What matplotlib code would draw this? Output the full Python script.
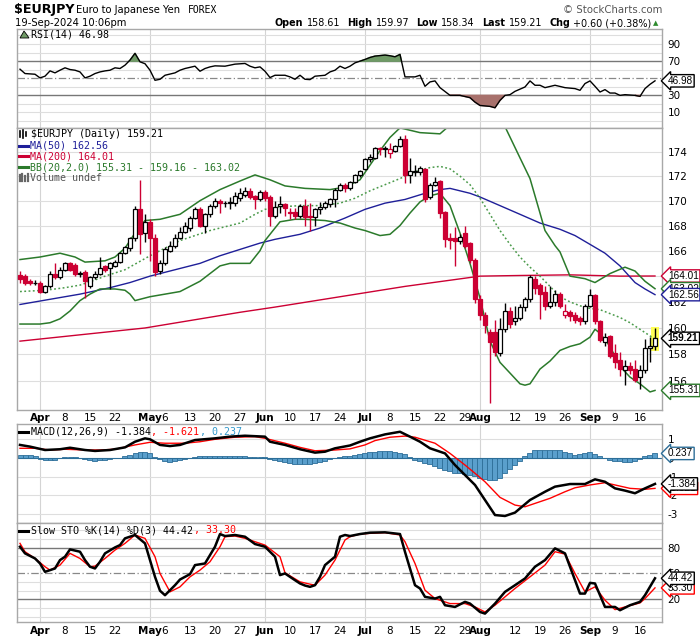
import numpy as np
import pandas as pd
import matplotlib
matplotlib.use('Agg')
import matplotlib.pyplot as plt
from matplotlib.lines import Line2D
from matplotlib.patches import Rectangle
from matplotlib.ticker import FixedLocator, FixedFormatter, NullLocator

# ---------------- data ----------------
dates = pd.bdate_range('2024-03-26', '2024-09-19')

opens = [164.1,164.0,163.6,163.45,163.5,162.8,163.2,164.2,163.9,164.5,165.0,164.9,164.2,164.3,163.2,163.9,164.2,164.8,164.6,164.8,
         165.1,165.8,166.2,167.0,169.3,167.4,168.3,167.0,164.4,165.0,166.0,166.4,167.0,167.5,167.8,168.6,169.3,168.0,168.9,169.6,
         170.0,169.8,169.85,169.8,170.2,170.5,170.8,170.4,170.1,170.7,170.3,168.8,169.6,169.7,169.1,169.1,168.8,169.6,168.8,168.7,
         169.3,169.5,169.7,170.1,170.9,171.3,171.0,171.5,172.1,172.6,173.4,173.5,174.3,174.25,173.9,174.1,174.5,175.1,172.1,172.35,
         172.3,172.6,170.3,171.3,171.6,169.1,167.0,167.0,166.8,167.4,166.6,165.3,162.2,161.0,159.7,159.7,158.1,159.9,161.3,160.5,
         160.8,161.6,162.2,163.8,163.3,162.8,161.7,162.0,162.6,161.0,161.2,161.0,160.8,160.5,161.7,162.5,160.5,158.9,159.4,158.1,
         157.6,156.8,157.1,156.9,156.3,156.8,158.5,158.61]
highs = [164.4,164.2,163.8,163.7,163.6,163.3,164.4,165.0,164.7,165.1,165.1,165.0,164.4,164.5,164.0,164.4,165.5,164.9,165.1,165.3,
         165.9,166.4,167.1,169.6,171.7,168.9,168.5,167.3,165.3,166.3,166.8,167.3,167.9,168.3,168.8,169.5,169.5,169.0,169.7,170.2,
         170.1,170.0,170.3,170.7,171.0,171.1,171.0,170.5,170.9,170.9,170.5,170.0,170.4,169.8,169.4,169.4,169.7,170.1,169.8,169.4,
         169.9,170.0,170.2,171.0,171.4,171.4,171.6,172.2,172.5,173.5,173.8,174.4,174.4,174.5,174.7,174.6,175.3,175.4,173.5,172.9,
         172.8,172.7,171.4,171.9,171.7,169.2,167.4,167.9,167.3,168.0,166.7,165.4,162.5,161.2,159.9,160.6,160.8,161.9,161.6,161.7,
         161.8,162.4,164.1,164.0,163.5,163.2,163.2,162.9,162.8,161.8,161.4,161.2,160.9,161.8,163.0,162.6,160.6,159.6,159.5,158.8,
         158.2,157.6,157.4,157.6,157.2,159.2,159.3,159.97]
lows = [163.5,163.3,163.3,163.3,162.7,162.7,163.1,163.8,163.8,164.4,164.4,164.0,163.9,162.3,163.1,163.8,164.1,164.3,163.0,164.7,
        165.0,165.7,166.0,166.8,165.7,166.7,165.2,164.0,164.2,164.9,165.9,166.2,166.9,167.4,167.6,168.5,167.9,167.4,168.7,169.4,
        169.0,169.5,169.3,169.6,170.0,170.3,170.1,169.3,170.0,170.0,168.0,168.6,169.0,168.8,168.5,168.5,168.6,168.0,167.6,168.0,
        168.9,169.3,169.5,169.5,170.8,170.7,170.9,171.4,171.9,172.5,173.2,173.4,173.7,173.6,173.5,174.0,174.4,171.4,171.4,172.0,
        172.1,169.9,170.1,171.2,168.6,166.3,166.1,164.8,166.5,166.2,165.0,161.9,160.6,159.6,154.4,157.9,157.9,159.7,160.0,160.2,
        160.6,161.3,162.0,162.6,160.7,161.4,161.5,161.7,161.5,160.8,160.5,160.4,160.2,160.3,161.6,160.3,158.9,158.6,157.7,157.0,
        156.4,155.7,156.5,155.9,155.4,156.6,157.4,158.34]
closes = [163.8,163.5,163.45,163.5,162.8,163.2,164.2,163.9,164.5,165.0,164.5,164.2,164.25,163.6,163.9,164.2,164.6,164.5,165.0,165.1,
          165.8,166.3,167.0,169.3,167.3,168.3,167.0,164.3,165.0,166.1,166.4,167.0,167.5,168.0,168.6,169.3,168.0,168.9,169.6,170.0,
          169.8,169.85,169.9,170.4,170.6,170.8,170.3,170.1,170.7,170.2,168.8,169.5,169.7,169.4,169.0,168.8,169.6,168.7,168.65,169.3,
          169.5,169.8,170.1,170.9,171.3,171.0,171.5,172.1,172.4,173.4,173.6,174.3,174.2,174.3,174.2,174.5,175.1,172.1,172.4,172.45,
          172.7,170.1,171.3,171.5,169.0,166.9,166.85,166.8,167.1,166.4,165.3,162.2,161.0,160.2,158.9,158.2,159.9,161.3,160.3,160.8,
          161.6,162.2,163.9,163.1,162.6,161.7,162.0,162.6,161.7,161.3,160.9,160.6,160.55,161.7,162.5,160.5,159.1,159.3,157.9,157.4,
          156.9,157.1,156.8,156.1,156.8,158.5,158.61,159.21]

ma50_day = [0,6,12,18,22,26,31,36,40,44,48,51,56,60,65,69,73,77,81,84,86,88,90,92,96,100,104,108,111,114,117,120,123,125,127]
ma50_val = [161.8,162.2,162.6,163.1,163.5,164.0,164.5,165.0,165.6,166.1,166.6,166.9,167.3,167.8,168.6,169.3,169.8,170.1,170.6,170.9,
            171.0,170.8,170.6,170.3,169.6,168.9,168.2,167.7,167.2,166.5,165.8,164.8,163.5,163.0,162.56]

ma200_day = [0,25,44,51,77,92,100,110,120,127]
ma200_val = [159.0,160.0,161.2,161.6,163.2,164.0,164.05,164.1,164.0,164.01]

bbu_day = [0,4,8,11,13,17,19,21,23,25,28,32,36,40,44,47,50,53,57,62,65,68,70,72,74,76,80,84,87,90,94,97,100,102,104,105,107,108,
           110,113,115,118,121,123,125,127]
bbu_val = [165.3,165.5,165.8,165.5,165.1,165.2,165.5,166.2,167.4,168.4,168.5,168.9,170.0,170.9,171.6,172.1,171.7,171.2,171.0,170.9,
           171.1,171.7,172.9,174.1,175.2,176.0,175.6,175.5,176.6,178.5,178.5,176.1,173.5,171.8,169.0,167.6,166.4,165.9,164.0,163.8,
           163.5,164.2,164.7,164.4,163.6,163.02]
bbm_day = [0,5,9,12,15,17,21,26,29,32,35,38,41,44,47,49,52,56,60,64,67,70,73,76,78,80,82,84,86,88,90,92,94,96,98,100,102,104,106,
           108,110,112,114,116,118,120,122,124,126,127]
bbm_val = [162.8,162.9,163.1,163.3,163.7,164.0,164.5,165.6,166.2,166.8,167.2,167.6,167.9,168.2,168.9,169.3,169.5,169.6,169.6,169.8,
           170.2,170.8,171.3,171.8,172.2,172.5,172.7,172.8,172.6,172.0,171.3,170.2,168.9,167.6,166.5,165.5,164.7,164.0,163.2,162.4,
           162.0,161.7,161.5,161.4,161.1,160.8,160.4,159.9,159.4,159.16]
bbl_day = [0,4,6,8,10,12,14,16,19,21,22,23,24,26,29,32,34,36,38,40,42,44,46,48,49,51,52,55,57,61,64,67,69,72,74,76,78,80,82,84,
           86,88,90,92,94,96,98,100,101,102,104,106,108,110,112,114,115,116,118,120,122,124,126,127]
bbl_val = [160.3,160.3,160.4,160.7,161.3,162.1,162.6,163.0,163.0,162.9,162.6,162.1,162.2,162.4,162.6,162.8,163.2,163.6,164.2,164.8,
           165.0,165.0,165.0,166.0,166.8,167.8,168.3,168.5,168.5,168.4,168.2,167.8,167.6,167.2,167.3,168.0,169.0,169.9,170.4,170.6,
           169.6,167.4,165.0,162.3,159.0,157.4,156.6,155.8,155.7,155.8,156.9,157.5,158.3,158.6,158.8,159.3,159.9,159.6,158.6,157.1,
           156.3,155.8,155.2,155.31]

rsi_day = [0,1,3,4,5,6,7,8,9,10,11,12,13,14,15,16,17,18,19,20,21,22,23,24,25,26,27,28,29,31,32,33,35,36,37,38,39,41,42,43,45,46,47,48,49,
           50,51,53,54,55,56,57,58,59,61,62,63,64,65,66,67,69,70,71,73,74,75,76,77,79,80,81,82,83,84,86,88,90,91,92,94,95,96,97,98,99,
           101,102,103,104,105,107,109,111,112,113,114,115,116,117,118,119,120,121,123,124,125,126,127]
rsi_val = [60.6,55.5,54.7,50.4,52.4,58.6,56.3,59.4,62.2,60.2,59.4,57.4,50.4,52.4,55.5,57.4,58.6,59.4,62.2,61.4,65.3,71.2,79.1,69.2,67.0,
           59.4,47.6,48.8,53.5,56.3,59.4,61.4,64.1,58.2,61.4,63.3,64.5,64.1,65.3,66.5,67.3,64.1,62.2,63.3,58.2,50.8,53.5,53.5,51.6,48.8,
           53.5,48.8,48.4,52.4,53.5,57.4,59.4,64.1,61.4,64.1,68.0,72.0,74.3,75.9,77.1,76.3,75.1,77.9,51.6,51.6,53.5,40.6,45.7,46.9,39.0,
           30.0,30.0,27.3,22.1,18.2,17.1,15.5,24.1,30.0,30.8,34.7,39.8,46.9,41.8,41.8,39.0,41.8,39.0,37.9,35.9,43.8,46.9,40.6,33.9,36.7,
           32.7,32.7,30.0,30.8,30.0,28.8,37.9,42.9,46.98]

macd_day = [0,2,5,8,10,13,15,18,21,23,25,26,28,30,32,35,39,42,45,49,50,53,56,59,61,63,66,68,70,73,76,78,80,82,85,87,89,91,93,95,
            97,99,102,105,107,110,113,115,117,119,121,123,125,127]
macd_val = [0.69,0.60,0.42,0.46,0.54,0.42,0.37,0.42,0.56,0.86,1.04,0.99,0.69,0.63,0.69,0.95,1.04,1.13,1.18,1.13,0.86,0.69,0.46,0.28,
            0.33,0.51,0.66,0.86,1.04,1.25,1.39,1.13,0.86,0.51,0.24,-0.38,-0.91,-1.44,-2.24,-3.04,-3.09,-2.91,-2.24,-1.80,-1.53,-1.39,
            -1.39,-1.14,-1.27,-1.62,-1.74,-1.88,-1.62,-1.384]
sig_day = [0,3,6,9,13,16,19,23,26,29,33,36,39,43,47,49,53,56,59,63,66,69,71,74,77,79,83,86,89,91,93,96,99,101,103,106,109,111,114,
           117,119,122,125,127]
sig_val = [0.51,0.51,0.42,0.46,0.42,0.42,0.46,0.69,0.83,0.78,0.78,0.86,0.99,1.10,1.13,1.04,0.78,0.56,0.38,0.42,0.48,0.69,0.92,1.10,
           1.16,1.10,0.78,0.24,-0.38,-0.82,-1.27,-2.10,-2.51,-2.60,-2.42,-2.15,-1.80,-1.59,-1.44,-1.32,-1.44,-1.62,-1.67,-1.621]
hist_val = [0.18,0.16,0.14,0.10,-0.05,-0.10,-0.12,-0.10,0.02,0.05,0.05,0.03,-0.02,-0.08,-0.12,-0.14,-0.12,-0.10,-0.06,-0.02,0.02,0.08,
            0.15,0.25,0.32,0.33,0.25,0.05,-0.08,-0.16,-0.20,-0.18,-0.12,-0.05,0.02,0.06,0.08,0.10,0.12,0.12,0.12,0.10,0.10,0.10,0.10,
            0.08,0.07,0.06,0.05,0.03,-0.05,-0.12,-0.18,-0.22,-0.27,-0.30,-0.32,-0.32,-0.30,-0.27,-0.22,-0.15,-0.08,0.00,0.05,0.10,
            0.12,0.15,0.22,0.27,0.30,0.33,0.35,0.35,0.35,0.30,0.27,0.20,0.04,-0.10,-0.18,-0.27,-0.35,-0.44,-0.55,-0.62,-0.70,-0.80,
            -0.82,-0.83,-0.90,-0.97,-1.05,-1.12,-1.15,-1.15,-1.06,-0.80,-0.60,-0.40,-0.18,0.09,0.27,0.41,0.44,0.44,0.44,0.44,0.42,
            0.30,0.25,0.18,0.20,0.28,0.30,0.20,0.09,0.00,-0.09,-0.15,-0.18,-0.23,-0.23,-0.15,-0.05,0.09,0.17,0.237]

k_day = [0,1,3,4,5,7,8,9,10,12,13,14,15,16,17,19,20,21,23,25,26,27,28,29,31,32,34,35,37,39,40,41,43,45,47,49,51,52,53,55,56,57,58,
         59,60,61,63,64,65,66,68,70,73,76,77,79,80,81,83,84,85,87,89,90,92,93,95,97,99,101,103,105,107,109,112,113,114,115,117,119,
         120,122,124,125,127]
k_val = [81.0,73.3,67.4,61.6,51.9,55.8,65.5,69.4,77.9,75.2,65.5,57.8,55.8,63.6,73.3,80.2,82.9,90.7,94.6,84.9,65.5,46.1,30.0,24.8,36.4,
         43.0,49.2,59.7,61.6,81.0,95.7,93.4,94.6,92.6,84.1,81.0,69.4,48.1,50.0,42.2,38.4,36.0,34.5,36.4,46.1,59.7,69.4,92.6,94.6,93.4,
         95.7,97.3,97.7,95.7,75.0,36.4,32.6,22.9,20.9,22.9,13.2,11.2,17.1,15.1,5.4,3.5,15.1,28.7,36.4,44.2,57.8,65.5,79.1,73.3,26.7,
         26.7,39.1,38.4,11.2,11.2,7.4,13.2,17.1,24.8,44.42]
d_day = [0,1,3,5,6,8,10,12,14,15,17,19,21,23,25,27,28,30,32,34,36,38,40,41,43,45,49,52,53,56,58,59,61,63,65,66,68,70,73,76,77,79,
         81,83,86,89,91,93,95,97,99,102,105,107,109,111,113,115,117,119,121,124,125,127]
d_val = [84.9,75.2,67.4,57.8,53.9,59.7,73.3,67.4,57.8,58.5,67.4,77.1,84.9,94.6,90.7,69.4,50.0,28.7,34.5,46.1,53.9,63.6,81.0,92.6,93.4,
         90.7,82.9,69.4,50.8,40.3,37.6,36.4,48.1,65.5,88.8,92.6,95.7,96.5,97.3,94.6,86.8,61.6,30.6,20.9,15.1,15.1,11.2,5.4,13.2,22.9,
         32.6,46.1,59.7,75.2,72.5,50.0,28.7,34.5,19.0,8.1,11.2,15.9,20.9,33.30]

tick_dates = ['2024-04-01','2024-04-08','2024-04-15','2024-04-22','2024-05-01','2024-05-06','2024-05-13','2024-05-20','2024-05-27',
              '2024-06-03','2024-06-10','2024-06-17','2024-06-24','2024-07-01','2024-07-08','2024-07-15','2024-07-22','2024-07-29',
              '2024-08-01','2024-08-12','2024-08-19','2024-08-26','2024-09-02','2024-09-09','2024-09-16']
tick_labels = ['Apr','8','15','22','May','6','13','20','27','Jun','10','17','24','Jul','8','15','22','29','Aug','12','19','26','Sep','9','16']
month_dates = ['2024-04-01','2024-05-01','2024-06-03','2024-07-01','2024-08-01','2024-09-02']

# ---------------- figure ----------------
W, H = 700, 639
fig = plt.figure(figsize=(W / 100, H / 100), dpi=100)
fig.patch.set_facecolor('white')

def rect(x0, y0, x1, y1):
    return [x0 / W, 1 - y1 / H, (x1 - x0) / W, (y1 - y0) / H]

def fx(x):
    return x / W

def fy(y):
    return 1 - y / H

RED = '#cc0033'
NAVY = '#1f1f99'
GREEN = '#2b7a2b'
GRID = '#dedede'
SPINE = '#a8a8a8'
MONO = 'DejaVu Sans Mono'
SANS = 'DejaVu Sans'
TAGF = 'Liberation Sans'

n = len(dates)
days = np.arange(n)
tick_idx = [dates.get_loc(pd.Timestamp(d)) for d in tick_dates]
month_idx = [dates.get_loc(pd.Timestamp(d)) for d in month_dates]
XLIM = (-0.6, 128.4)

def base_axes(r):
    ax = fig.add_axes(r)
    ax.set_xlim(*XLIM)
    for s in ax.spines.values():
        s.set_color(SPINE)
        s.set_linewidth(1)
    ax.yaxis.tick_right()
    ax.tick_params(axis='y', length=0, pad=4, labelsize=7.5, labelcolor='black')
    ax.tick_params(axis='x', length=0)
    ax.set_xticks([])
    for m in month_idx:
        ax.axvline(m, color='#d4d4d4', lw=0.8, zorder=0)
    return ax

def tag(ax, y, text, ec, bold=False):
    ax.annotate(text, xy=(1.0, y), xycoords=('axes fraction', 'data'), xytext=(4.2, 0),
                textcoords='offset points', ha='left', va='center', fontsize=7.2, family=TAGF,
                fontweight='bold' if bold else 'normal', color='black',
                bbox=dict(boxstyle='larrow,pad=0.12', fc='white', ec=ec, lw=1),
                annotation_clip=False, zorder=10)

def set_dates(ax):
    ax.set_xticks(tick_idx)
    ax.set_xticklabels(tick_labels)
    ax.tick_params(axis='x', length=0, pad=2.5, labelsize=7.5)
    for lab, txt in zip(ax.get_xticklabels(), tick_labels):
        if not txt.isdigit():
            lab.set_fontweight('bold')

# ---------------- RSI panel ----------------
ax_r = base_axes(rect(17, 29, 662, 127.5))
ax_r.set_ylim(-7.6, 107.6)
for v in range(0, 101, 10):
    if v in (30, 70):
        ax_r.axhline(v, color='#777777', lw=1, zorder=1)
    elif v == 50:
        ax_r.axhline(v, color='#888888', lw=0.9, ls=(0, (6, 2, 1, 2)), zorder=1)
    else:
        ax_r.axhline(v, color=GRID, lw=0.8, zorder=0)
rd = np.array(rsi_day, float)
rv = np.array(rsi_val)
ax_r.fill_between(rd, rv, 70, where=rv >= 70, interpolate=True, color='#6f9a66', zorder=2)
ax_r.fill_between(rd, rv, 30, where=rv <= 30, interpolate=True, color='#a8716c', zorder=2)
ax_r.plot(rd, rv, color='black', lw=1, zorder=3)
ax_r.set_yticks([10, 30, 50, 70, 90])
tag(ax_r, rsi_val[-1], '46.98', 'black')

# ---------------- price panel ----------------
ax_p = base_axes(rect(17, 127.5, 662, 410))
ax_p.set_yscale('log')
ax_p.set_ylim(153.87, 176.03)
pticks = list(range(156, 176, 2))
ax_p.yaxis.set_major_locator(FixedLocator(pticks))
ax_p.yaxis.set_major_formatter(FixedFormatter(['' if t == 164 else str(t) for t in pticks]))
ax_p.yaxis.set_minor_locator(NullLocator())
for t in pticks:
    ax_p.axhline(t, color=GRID, lw=0.8, zorder=0)
set_dates(ax_p)

o = np.array(opens); h = np.array(highs); l = np.array(lows); c = np.array(closes)
prev = np.r_[o[0], c[:-1]]
col = np.where(c >= prev, 'black', RED)
col[0] = RED if c[0] < o[0] else 'black'
face = np.where(c < o, col, 'white')

# highlight of last bar
ax_p.add_patch(Rectangle((days[-1] - 0.75, l[-1] - 0.12), 1.5, h[-1] - l[-1] + 0.24,
                         facecolor='#ffff55', edgecolor='none', zorder=1))

ax_p.plot(ma200_day, ma200_val, color=RED, lw=1.0, zorder=2)
ax_p.plot(ma50_day, ma50_val, color=NAVY, lw=1.0, zorder=2)
ax_p.plot(bbu_day, bbu_val, color=GREEN, lw=1.1, zorder=2)
ax_p.plot(bbl_day, bbl_val, color=GREEN, lw=1.1, zorder=2)
ax_p.plot(bbm_day, bbm_val, color='#4a9a4a', lw=1.1, ls=(0, (1.2, 1.6)), zorder=2)

ax_p.vlines(days, l, h, colors=col, lw=1, zorder=3)
body_lo = np.minimum(o, c)
body_h = np.maximum(np.abs(c - o), 0.05)
ax_p.bar(days, body_h, bottom=body_lo, width=0.72, color=face, edgecolor=col, linewidth=0.9, zorder=4)

tag(ax_p, 164.01, '164.01', RED)
tag(ax_p, 163.02, '163.02', GREEN)
tag(ax_p, 162.56, '162.56', NAVY)
tag(ax_p, 159.21, '159.21', 'black', bold=True)
tag(ax_p, 155.31, '155.31', GREEN)

# ---------------- MACD panel ----------------
ax_m = base_axes(rect(17, 424, 662, 523))
ax_m.set_ylim(-3.463, 1.803)
for v in [1, -1, -2, -3]:
    ax_m.axhline(v, color=GRID, lw=0.8, zorder=0)
ax_m.bar(days, hist_val, width=1.0, color='#5a9fcc', edgecolor='#2d6e98', linewidth=0.6, zorder=2)
ax_m.axhline(0, color='#2d6e98', lw=0.8, zorder=2)
ax_m.plot(sig_day, sig_val, color='red', lw=1, zorder=3)
ax_m.plot(macd_day, macd_val, color='black', lw=1.8, zorder=4)
ax_m.set_yticks([1, 0, -1, -2, -3])
ax_m.set_yticklabels(['1', '0', '-1', '-2', '-3'])
tag(ax_m, 0.237, '0.237', '#2d6e98')
tag(ax_m, -1.621, '-1.621', 'red')
tag(ax_m, -1.384, '-1.384', 'black')

# ---------------- STO panel ----------------
ax_s = base_axes(rect(17, 523, 662, 622.3))
ax_s.set_ylim(-6.6, 108.5)
for v in range(0, 101, 10):
    if v in (20, 80):
        ax_s.axhline(v, color='#777777', lw=1, zorder=1)
    elif v == 50:
        ax_s.axhline(v, color='#888888', lw=0.9, ls=(0, (6, 2, 1, 2)), zorder=1)
    else:
        ax_s.axhline(v, color=GRID, lw=0.8, zorder=0)
ax_s.plot(d_day, d_val, color='red', lw=1, zorder=3)
ax_s.plot(k_day, k_val, color='black', lw=1.8, zorder=4)
ax_s.set_yticks([20, 50, 80])
set_dates(ax_s)
tag(ax_s, 33.30, '33.30', 'red')
tag(ax_s, 44.42, '44.42', 'black')

# ---------------- legends ----------------
def icon_line(x0, x1, y, color, lw=2.2):
    fig.add_artist(Line2D([fx(x0), fx(x1)], [fy(y), fy(y)], color=color, lw=lw, transform=fig.transFigure))

def mono(x, y, s, color='black'):
    fig.text(fx(x), fy(y), s, family=MONO, fontsize=7.2, color=color, va='center', ha='left')

CW = 7.2 * 0.602 * 100 / 72  # px per monospace char

fig.add_artist(plt.Polygon([[fx(20), fy(38)], [fx(24), fy(31)], [fx(27), fy(35)], [fx(29), fy(38)]],
                           closed=True, fc='#6f9a66', ec='black', lw=0.6, transform=fig.transFigure))
mono(31, 34.5, 'RSI(14) 46.98')

for xx, top, bot in [(20, 131, 137), (23, 130, 138), (26, 132, 136)]:
    fig.add_artist(Line2D([fx(xx), fx(xx)], [fy(top), fy(bot)], color='black', lw=1.2, transform=fig.transFigure))
mono(31, 134, '$EURJPY (Daily) 159.21')
icon_line(19, 28, 145.5, NAVY)
mono(29.5, 145.5, 'MA(50) 162.56', NAVY)
icon_line(19, 28, 156.3, RED)
mono(29.5, 156.3, 'MA(200) 164.01', RED)
icon_line(19, 28, 167.2, GREEN)
mono(29.5, 167.2, 'BB(20,2.0) 155.31 - 159.16 - 163.02', GREEN)
for xx, top in [(20, 175), (22.5, 174), (25, 176), (27.5, 173.5)]:
    fig.add_artist(Line2D([fx(xx), fx(xx)], [fy(top), fy(181)], color='#666666', lw=1.6, transform=fig.transFigure))
mono(29.5, 177.7, 'Volume undef', '#555555')

icon_line(19, 28, 431.7, 'black')
s1 = 'MACD(12,26,9) -1.384'
s2 = ', -1.621'
s3 = ', 0.237'
mono(31, 431.7, s1)
mono(31 + CW * len(s1), 431.7, s2, 'red')
mono(31 + CW * (len(s1) + len(s2)), 431.7, s3, '#3399cc')

icon_line(19, 28, 530.5, 'black')
t1 = 'Slow STO %K(14) %D(3) 44.42'
mono(31, 530.5, t1)
mono(31 + CW * len(t1), 530.5, ', 33.30', 'red')

# ---------------- header ----------------
fig.text(fx(14), fy(9.5), '$EURJPY', fontsize=9.2, fontweight='bold', family=SANS, va='center')
fig.text(fx(76), fy(10), 'Euro to Japanese Yen', fontsize=7.2, family=SANS, va='center')
fig.text(fx(188), fy(10), 'FOREX', fontsize=7.0, family=MONO, va='center')
fig.text(fx(15), fy(23), '19-Sep-2024 10:06pm', fontsize=7.2, family=SANS, va='center')
fig.text(fx(662), fy(10), '\u00a9 StockCharts.com', fontsize=7.3, family=SANS, va='center', ha='right', color='#555555')

renderer = fig.canvas.get_renderer()
pieces = [('Open', 'bold'), ('158.61', 'normal'), ('High', 'bold'), ('159.97', 'normal'),
          ('Low', 'bold'), ('158.34', 'normal'), ('Last', 'bold'), ('159.21', 'normal'),
          ('Chg', 'bold'), ('+0.60 (+0.38%)', 'normal')]
xcur = 651.5
for txt, wt in reversed(pieces):
    t = fig.text(fx(xcur), fy(23), txt, fontsize=6.9, fontweight=wt, family=SANS, va='center', ha='right')
    w = t.get_window_extent(renderer=renderer).width
    xcur -= w + (3.5 if wt == 'normal' else 7)
fig.text(fx(655.5), fy(23), '\u25b2', fontsize=5, color='#2e8b2e', family=SANS, va='center', ha='center')

fig.savefig('out.png', dpi=100, facecolor='white')
